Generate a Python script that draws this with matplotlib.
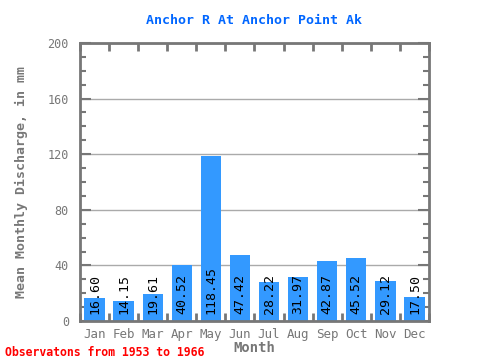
import matplotlib
matplotlib.use('Agg')
import matplotlib.pyplot as plt
import numpy as np
from matplotlib.ticker import MultipleLocator

months = ['Jan', 'Feb', 'Mar', 'Apr', 'May', 'Jun', 'Jul', 'Aug', 'Sep', 'Oct', 'Nov', 'Dec']
discharge = [16.60, 14.15, 19.61, 40.52, 118.45, 47.42, 28.22, 31.97, 42.87, 45.52, 29.12, 17.50]

plt.rcParams['font.family'] = ['DejaVu Sans Mono']
gray = '#777777'

fig = plt.figure(figsize=(4.8, 3.6), dpi=100)
ax = fig.add_axes([80/480, 39/360, 349/480, 278/360])

x = np.arange(len(months))
ax.bar(x, discharge, width=0.7, color='#3399ff', zorder=2)
for xi, v in zip(x, discharge):
    ax.text(xi, 5, f'{v:.2f}', rotation=90, ha='center', va='bottom',
            fontsize=9.5, color='black', zorder=3)

ax.set_xlim(-0.5, 11.5)
ax.set_ylim(0, 200)
ax.set_yticks([0, 40, 80, 120, 160, 200])
ax.yaxis.set_minor_locator(MultipleLocator(10))
ax.set_xticks(x)
ax.set_xticklabels(months)
ax.set_xticks(np.arange(-0.5, 12, 1), minor=True)
ax.grid(axis='y', which='major', color='#aaaaaa', linewidth=1, zorder=1)

ax.tick_params(axis='x', which='major', length=0, labelsize=9, labelcolor=gray, pad=5)
ax.tick_params(axis='x', which='minor', direction='in', length=6, width=2, color=gray, top=True)
ax.tick_params(axis='y', which='major', direction='in', length=8, width=1.5, color=gray,
               labelsize=8.5, labelcolor=gray, right=True, pad=8)
ax.tick_params(axis='y', which='minor', direction='in', length=4, width=1.5, color=gray, right=True)
for s in ax.spines.values():
    s.set_color(gray)
    s.set_linewidth(2)

ax.set_title('Anchor R At Anchor Point Ak', color='#0066ff', fontweight='bold',
             fontsize=9.5, pad=14)
ax.set_ylabel('Mean Monthly Discharge, in mm', color=gray, fontweight='bold',
              fontsize=9.5, labelpad=14)
ax.set_xlabel('Month', color=gray, fontweight='bold', fontsize=10, labelpad=0)
fig.text(5/480, 1 - 352/360, 'Observatons from 1953 to 1966', color='red',
         fontweight='bold', fontsize=8.3, va='center', ha='left')

fig.savefig('out.png', dpi=100)
